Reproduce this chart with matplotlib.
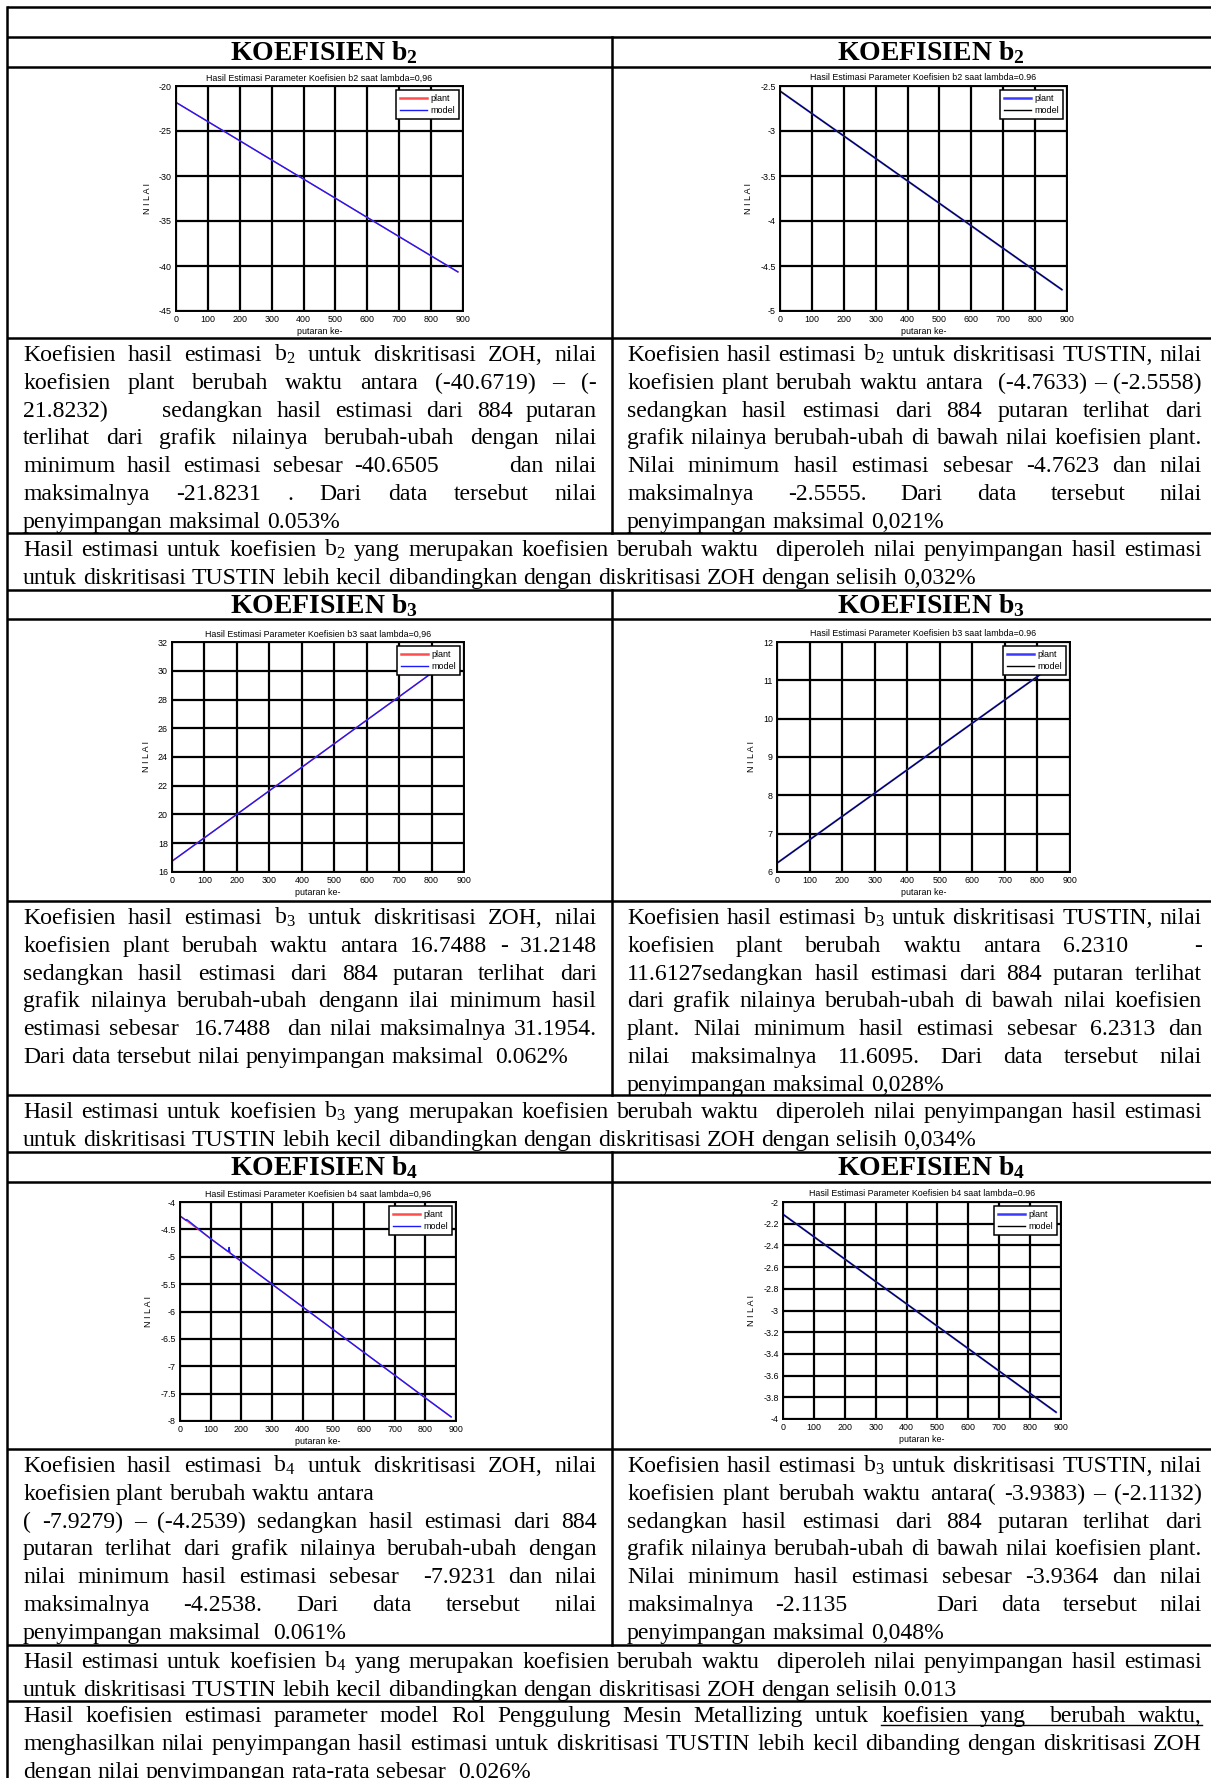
import matplotlib
matplotlib.use('Agg')
import matplotlib.pyplot as plt

plt.rcParams['font.family'] = ['Liberation Sans', 'DejaVu Sans']
plt.rcParams['mathtext.fontset'] = 'custom'
plt.rcParams['mathtext.rm'] = 'Liberation Serif'
plt.rcParams['mathtext.it'] = 'Liberation Serif:italic'
plt.rcParams['mathtext.bf'] = 'Liberation Serif:bold'

W, H = 1211, 1778

# ---- data (putaran ke-, nilai) ----
putaran = [0, 100, 200, 300, 400, 500, 600, 700, 800, 884]

b2_zoh_plant = [-21.82, -23.96, -26.09, -28.22, -30.35, -32.48, -34.62, -36.75, -38.88, -40.67]
b2_zoh_model = [-21.82, -23.95, -26.08, -28.22, -30.34, -32.47, -34.61, -36.74, -38.87, -40.65]
b2_tus_plant = [-2.556, -2.806, -3.055, -3.305, -3.555, -3.804, -4.054, -4.304, -4.554, -4.763]
b2_tus_model = [-2.556, -2.806, -3.055, -3.304, -3.554, -3.804, -4.053, -4.303, -4.553, -4.762]

b3_zoh_plant = [16.75, 18.39, 20.02, 21.66, 23.29, 24.93, 26.57, 28.20, 29.84, 31.21]
b3_zoh_model = [16.75, 18.38, 20.01, 21.65, 23.28, 24.92, 26.56, 28.19, 29.83, 31.20]
b3_tus_plant = [6.231, 6.840, 7.449, 8.057, 8.666, 9.275, 9.884, 10.493, 11.101, 11.613]
b3_tus_model = [6.231, 6.839, 7.448, 8.056, 8.665, 9.274, 9.883, 10.491, 11.099, 11.610]

b4_zoh_plant = [-4.254, -4.670, -5.085, -5.501, -5.916, -6.332, -6.748, -7.163, -7.579, -7.928]
b4_zoh_x = [0, 20, 22, 100, 158, 160, 163, 200, 300, 400, 500, 600, 700, 800, 884]
b4_zoh_model = [-4.254, -4.337, -4.32, -4.670, -4.91, -4.83, -4.93, -5.085, -5.50,
                -5.916, -6.332, -6.748, -7.163, -7.579, -7.923]
b4_tus_plant = [-2.113, -2.320, -2.526, -2.733, -2.939, -3.146, -3.352, -3.559, -3.765, -3.938]
b4_tus_model = [-2.114, -2.320, -2.526, -2.733, -2.939, -3.145, -3.352, -3.558, -3.764, -3.936]

x_ticks = [0, 100, 200, 300, 400, 500, 600, 700, 800, 900]
yt_b2_zoh = [-45, -40, -35, -30, -25, -20]
yt_b2_tus = [-5, -4.5, -4, -3.5, -3, -2.5]
yt_b3_zoh = [16, 18, 20, 22, 24, 26, 28, 30, 32]
yt_b3_tus = [6, 7, 8, 9, 10, 11, 12]
yt_b4_zoh = [-8, -7.5, -7, -6.5, -6, -5.5, -5, -4.5, -4]
yt_b4_tus = [-4, -3.8, -3.6, -3.4, -3.2, -3, -2.8, -2.6, -2.4, -2.2, -2]

# ---- text of the table ('\n' at the end = line not justified) ----
headers = ['b$_\\mathbf{2}$', 'b$_\\mathbf{3}$', 'b$_\\mathbf{4}$']

text_b2_zoh = [
    'Koefisien hasil estimasi b$_2$ untuk diskritisasi ZOH, nilai',
    'koefisien plant berubah waktu antara (-40.6719) \u2013 (-',
    '21.8232)    sedangkan hasil estimasi dari 884 putaran',
    'terlihat dari grafik nilainya berubah-ubah dengan nilai',
    'minimum hasil estimasi sebesar -40.6505      dan nilai',
    'maksimalnya -21.8231 . Dari data tersebut nilai',
    'penyimpangan maksimal 0.053%\n']
text_b2_tus = [
    'Koefisien hasil estimasi b$_2$ untuk diskritisasi TUSTIN, nilai',
    'koefisien plant berubah waktu antara  (-4.7633) \u2013 (-2.5558)',
    'sedangkan hasil estimasi dari 884 putaran terlihat dari',
    'grafik nilainya berubah-ubah di bawah nilai koefisien plant.',
    'Nilai minimum hasil estimasi sebesar -4.7623 dan nilai',
    'maksimalnya -2.5555. Dari data tersebut nilai',
    'penyimpangan maksimal 0,021%\n']
sum_b2 = [
    'Hasil estimasi untuk koefisien b$_2$ yang merupakan koefisien berubah waktu  diperoleh nilai penyimpangan hasil estimasi',
    'untuk diskritisasi TUSTIN lebih kecil dibandingkan dengan diskritisasi ZOH dengan selisih 0,032%\n']

text_b3_zoh = [
    'Koefisien hasil estimasi b$_3$ untuk diskritisasi ZOH, nilai',
    'koefisien plant berubah waktu antara 16.7488 - 31.2148',
    'sedangkan hasil estimasi dari 884 putaran terlihat dari',
    'grafik nilainya berubah-ubah dengann ilai minimum hasil',
    'estimasi sebesar  16.7488  dan nilai maksimalnya 31.1954.',
    'Dari data tersebut nilai penyimpangan maksimal  0.062%\n']
text_b3_tus = [
    'Koefisien hasil estimasi b$_3$ untuk diskritisasi TUSTIN, nilai',
    'koefisien plant berubah waktu antara 6.2310   -',
    '11.6127sedangkan hasil estimasi dari 884 putaran terlihat',
    'dari grafik nilainya berubah-ubah di bawah nilai koefisien',
    'plant. Nilai minimum hasil estimasi sebesar 6.2313 dan',
    'nilai maksimalnya 11.6095. Dari data tersebut nilai',
    'penyimpangan maksimal 0,028%\n']
sum_b3 = [
    'Hasil estimasi untuk koefisien b$_3$ yang merupakan koefisien berubah waktu  diperoleh nilai penyimpangan hasil estimasi',
    'untuk diskritisasi TUSTIN lebih kecil dibandingkan dengan diskritisasi ZOH dengan selisih 0,034%\n']

text_b4_zoh = [
    'Koefisien hasil estimasi b$_4$ untuk diskritisasi ZOH, nilai',
    'koefisien plant berubah waktu antara\n',
    '( -7.9279) \u2013 (-4.2539) sedangkan hasil estimasi dari 884',
    'putaran terlihat dari grafik nilainya berubah-ubah dengan',
    'nilai minimum hasil estimasi sebesar  -7.9231 dan nilai',
    'maksimalnya -4.2538. Dari data tersebut nilai',
    'penyimpangan maksimal  0.061%\n']
text_b4_tus = [
    'Koefisien hasil estimasi b$_3$ untuk diskritisasi TUSTIN, nilai',
    'koefisien plant berubah waktu antara( -3.9383) \u2013 (-2.1132)',
    'sedangkan hasil estimasi dari 884 putaran terlihat dari',
    'grafik nilainya berubah-ubah di bawah nilai koefisien plant.',
    'Nilai minimum hasil estimasi sebesar -3.9364 dan nilai',
    'maksimalnya -2.1135    Dari data tersebut nilai',
    'penyimpangan maksimal 0,048%\n']
sum_b4 = [
    'Hasil estimasi untuk koefisien b$_4$ yang merupakan koefisien berubah waktu  diperoleh nilai penyimpangan hasil estimasi',
    'untuk diskritisasi TUSTIN lebih kecil dibandingkan dengan diskritisasi ZOH dengan selisih 0.013\n']

final_text = [
    'Hasil koefisien estimasi parameter model Rol Penggulung Mesin Metallizing untuk koefisien yang  berubah waktu,',
    'menghasilkan nilai penyimpangan hasil estimasi untuk diskritisasi TUSTIN lebih kecil dibanding dengan diskritisasi ZOH',
    'dengan nilai penyimpangan rata-rata sebesar  0,026%\n']

# ---- figure + pixel overlay for the table ----
fig = plt.figure(figsize=(W / 100, H / 100), dpi=100)
renderer = fig.canvas.get_renderer()
bg = fig.add_axes([0, 0, 1, 1])
bg.set_xlim(0, W)
bg.set_ylim(H, 0)
bg.axis('off')

body = dict(family='Liberation Serif', fontsize=17.1, color='black')


def word_w(s, **kw):
    if s == '':
        return 0.0
    t = bg.text(0, 0, s, **kw)
    w = t.get_window_extent(renderer).width
    t.remove()
    return w


space_w = word_w('a a', **body) - word_w('aa', **body)


def put_line(line, x0, x1, y, underline=None):
    justify = not line.endswith('\n')
    words = line.rstrip('\n').split(' ')
    ws = [word_w(w, **body) for w in words]
    gap = space_w
    if justify and len(words) > 1:
        gap = (x1 - x0 - sum(ws)) / (len(words) - 1)
    x = x0
    pos = []
    for w, wd in zip(words, ws):
        if w:
            bg.text(x, y, w, ha='left', va='baseline', **body)
        pos.append((x, x + wd))
        x += wd + gap
    if underline:
        i, j = underline
        bg.plot([pos[i][0], pos[j][1]], [y + 3, y + 3], color='black', lw=1.0)


def put_par(lines, x0, x1, top, underline=None, first=23):
    for k, line in enumerate(lines):
        put_line(line, x0, x1, top + first + k * 27.8, underline if k == 0 else None)


# table rules (no right border: the page is cropped there)
L, M = 7, 612
rows = [7, 37, 67, 338, 533, 590, 619, 901, 1095, 1152, 1182, 1449, 1645, 1701]
for y in rows:
    bg.plot([L, W], [y, y], color='black', lw=1.8, solid_capstyle='butt')
bg.plot([L, L], [7, H], color='black', lw=1.8)
for ya, yb in [(37, 533), (590, 1095), (1152, 1645)]:
    bg.plot([M, M], [ya, yb], color='black', lw=1.8)

# headers
for hdr, top in zip(headers, [37, 590, 1152]):
    for xc in [324, 931]:
        bg.text(xc, top + 23, 'KOEFISIEN ' + hdr, ha='center', va='baseline',
                family='Liberation Serif', fontsize=20, fontweight='bold')

# paragraphs
put_par(text_b2_zoh, 23, 597, 338)
put_par(text_b2_tus, 627, 1202, 338)
put_par(sum_b2, 23, 1202, 533)
put_par(text_b3_zoh, 23, 597, 901)
put_par(text_b3_tus, 627, 1202, 901)
put_par(sum_b3, 23, 1202, 1095)
put_par(text_b4_zoh, 23, 597, 1449)
put_par(text_b4_tus, 627, 1202, 1449)
put_par(sum_b4, 23, 1202, 1645)
put_par(final_text, 23, 1202, 1701, underline=(10, 14), first=21)


# ---- the six MATLAB-like graphs ----
def draw_plot(box, xp, plant, xm, model, yticks, title, c_plant, c_model, lw_p, lw_m):
    x0, y0, x1, y1 = box
    ax = fig.add_axes([x0 / W, 1 - y1 / H, (x1 - x0) / W, (y1 - y0) / H])
    ax.plot(xp, plant, color=c_plant, lw=lw_p, label='plant')
    ax.plot(xm, model, color=c_model, lw=lw_m, label='model')
    ax.set_xlim(0, 900)
    ax.set_ylim(yticks[0], yticks[-1])
    ax.set_xticks(x_ticks)
    ax.set_yticks(yticks)
    ax.set_yticklabels(['%g' % v for v in yticks])
    ax.grid(True, color='black', lw=1.6)
    ax.set_axisbelow(True)
    ax.tick_params(direction='in', length=0, labelsize=6.4, pad=3)
    for sp in ax.spines.values():
        sp.set_linewidth(1.4)
    ax.set_title(title, fontsize=6.4, pad=4)
    ax.set_xlabel('putaran ke-', fontsize=6.4, labelpad=2)
    ax.set_ylabel('N I L A I', fontsize=6.4, labelpad=5)
    leg = ax.legend(loc='upper right', fontsize=6.5, fancybox=False, framealpha=1,
                    edgecolor='black', handlelength=3.0, handletextpad=0.4,
                    borderpad=0.45, labelspacing=0.35, borderaxespad=0.4)
    leg.get_frame().set_linewidth(1.1)
    leg.get_lines()[0].set_linewidth(1.8)
    leg.get_lines()[1].set_linewidth(1.0)
    return ax


red_p, blue_m = '#ff4d4d', '#1a1aff'
blue_p, black_m = '#3a3aff', '#000000'
t_l = 'Hasil Estimasi Parameter Koefisien %s saat lambda=0,96'
t_r = 'Hasil Estimasi Parameter Koefisien %s saat lambda=0.96'

draw_plot((176, 86, 463, 311), putaran, b2_zoh_plant, putaran, b2_zoh_model,
          yt_b2_zoh, t_l % 'b2', red_p, blue_m, 1.0, 1.0)
draw_plot((780, 86, 1067, 311), putaran, b2_tus_plant, putaran, b2_tus_model,
          yt_b2_tus, t_r % 'b2', blue_p, black_m, 1.4, 0.7)
draw_plot((172, 642, 464, 872), putaran, b3_zoh_plant, putaran, b3_zoh_model,
          yt_b3_zoh, t_l % 'b3', red_p, blue_m, 1.0, 1.0)
draw_plot((777, 642, 1070, 872), putaran, b3_tus_plant, putaran, b3_tus_model,
          yt_b3_tus, t_r % 'b3', blue_p, black_m, 1.4, 0.7)
draw_plot((180, 1202, 456, 1421), putaran, b4_zoh_plant, b4_zoh_x, b4_zoh_model,
          yt_b4_zoh, t_l % 'b4', red_p, blue_m, 1.0, 1.0)
draw_plot((783, 1202, 1061, 1419), putaran, b4_tus_plant, putaran, b4_tus_model,
          yt_b4_tus, t_r % 'b4', blue_p, black_m, 1.4, 0.7)

fig.savefig('out.png', dpi=100)
